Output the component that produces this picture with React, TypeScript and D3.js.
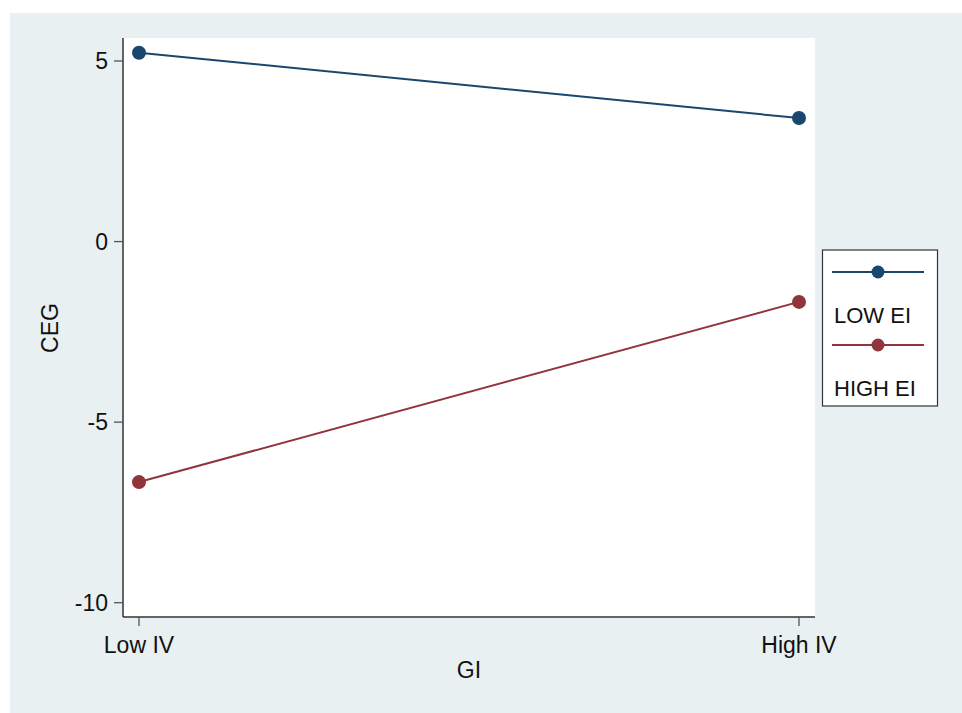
import React from 'react'
import * as d3 from 'd3'

const categories = ['Low IV', 'High IV']
const seriesNames = ['LOW EI', 'HIGH EI']
const lowEI = [5.23, 3.42]
const highEI = [-6.66, -1.67]
const yTicks = [-10, -5, 0, 5]
const colors = ['#1a476f', '#90353b']

const W = 962
const H = 713
const bg = '#e8f0f2'
const font = '"Liberation Sans", Arial, Helvetica, sans-serif'
const fs = 23

const App = () => {
  // plot region
  const left = 123,
    right = 815,
    top = 38,
    bottom = 617

  const x = d3.scalePoint().domain(categories).range([139, 799])
  const y = d3.scaleLinear().domain([-10, 5]).range([602.7, 61])

  const line = d3
    .line<number>()
    .x((d, i) => x(categories[i]) as number)
    .y(d => y(d))

  const series = [lowEI, highEI]

  return (
    <svg
      width={W}
      height={H}
      style={{ position: 'absolute', left: 0, top: 0, fontFamily: font }}
    >
      <rect x={0} y={0} width={W} height={H} fill="#ffffff" />
      <rect x={10} y={13} width={W - 10} height={H - 13} fill={bg} />
      <rect x={left} y={top} width={right - left} height={bottom - top} fill="#ffffff" />

      {/* lines + markers */}
      {series.map((s, k) => (
        <g key={seriesNames[k]}>
          <path d={line(s) || ''} fill="none" stroke={colors[k]} strokeWidth={2} />
          {s.map((v, i) => (
            <circle key={i} cx={x(categories[i])} cy={y(v)} r={7} fill={colors[k]} />
          ))}
        </g>
      ))}

      {/* y axis */}
      <line x1={left} x2={left} y1={top} y2={bottom} stroke="#333" strokeWidth={1.5} />
      {yTicks.map(t => (
        <g key={t}>
          <line x1={left - 9} x2={left} y1={y(t)} y2={y(t)} stroke="#555" strokeWidth={1.3} />
          <text
            x={left - 15}
            y={y(t)}
            dy="0.36em"
            textAnchor="end"
            fontSize={fs}
            fill="#111"
          >
            {t}
          </text>
        </g>
      ))}
      <text
        transform={`translate(50,328) rotate(-90)`}
        textAnchor="middle"
        dy="0.36em"
        fontSize={fs}
        fill="#111"
      >
        CEG
      </text>

      {/* x axis */}
      <line x1={left} x2={right} y1={bottom} y2={bottom} stroke="#333" strokeWidth={1.5} />
      {categories.map(c => (
        <g key={c}>
          <line x1={x(c)} x2={x(c)} y1={bottom} y2={bottom + 9} stroke="#555" strokeWidth={1.3} />
          <text x={x(c)} y={653} textAnchor="middle" fontSize={fs} fill="#111">
            {c}
          </text>
        </g>
      ))}
      <text x={(left + right) / 2} y={678} textAnchor="middle" fontSize={fs} fill="#111">
        GI
      </text>

      {/* legend */}
      <rect x={822.5} y={250} width={115} height={156} fill="#ffffff" stroke="#333" strokeWidth={1.2} />
      {seriesNames.map((n, k) => (
        <g key={n} transform={`translate(0,${k * 73})`}>
          <line x1={832} x2={924} y1={272} y2={272} stroke={colors[k]} strokeWidth={2} />
          <circle cx={878} cy={272} r={6.5} fill={colors[k]} />
          <text x={834} y={323} fontSize={fs - 1} fill="#111">
            {n}
          </text>
        </g>
      ))}
    </svg>
  )
}

export default App
